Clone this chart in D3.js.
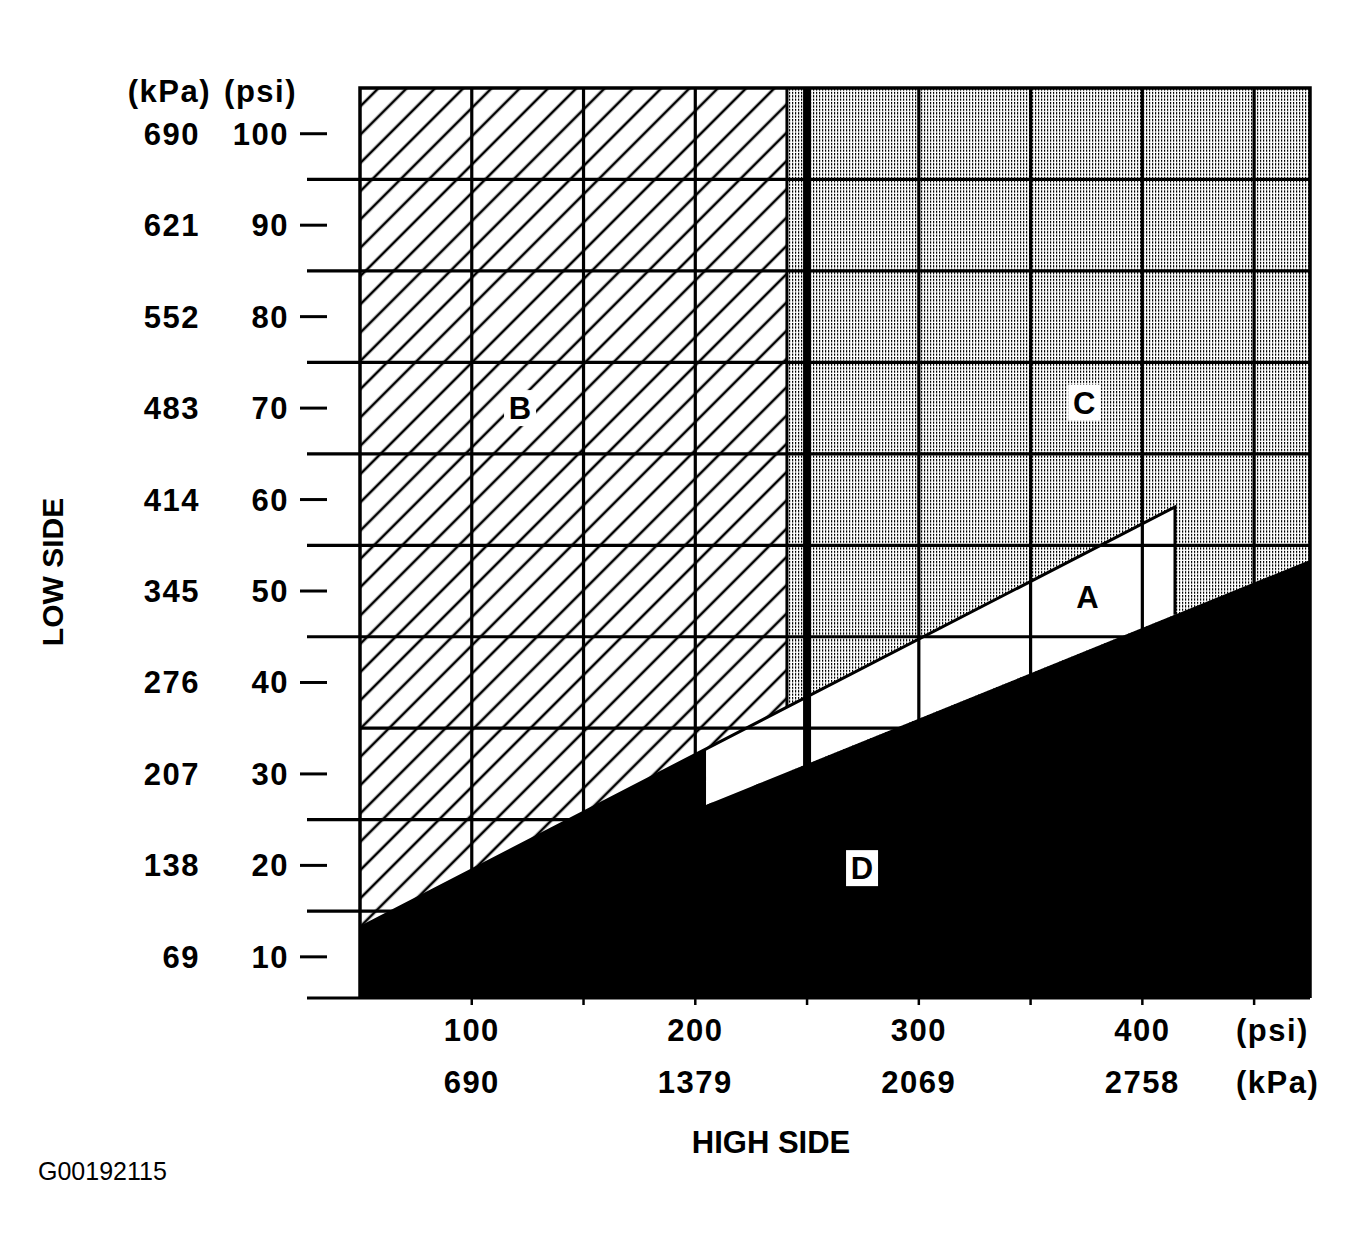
<!DOCTYPE html>
<html>
<head>
<meta charset="utf-8">
<script src="https://cdn.jsdelivr.net/npm/d3@7"></script>
<style>
  body { margin: 0; background: #fff; }
  svg { display: block; }
  text { font-family: "Liberation Sans", Arial, sans-serif; fill: #000; }
</style>
</head>
<body>
<div id="chart"></div>
<script>
// Low side (y) ticks
const lowPsi = [10, 20, 30, 40, 50, 60, 70, 80, 90, 100];
const lowKpa = [69, 138, 207, 276, 345, 414, 483, 552, 621, 690];
// High side (x) ticks
const highPsi = [100, 200, 300, 400];
const highKpa = [690, 1379, 2069, 2758];
const highMinor = [100, 150, 200, 250, 300, 350, 400, 450];

// grid
const gridY = [15, 25, 35, 45, 55, 65, 75, 85, 95];
const gridYLong = [true, true, false, true, true, true, true, true, true];
const gridX = [100, 150, 200, 300, 350, 400, 450];
const thickX = 250;
const zoneBEdge = 241;

// zone boundaries (psi high, psi low)
const upperLine = [[50, 13.2], [414.6, 59.2]];
const lowerLine = [[204.8, 26.6], [475, 53.4]];

const zoneLabels = ["B", "C", "A", "D"];
const zoneLabelX = [121.6, 374, 375.4, 274.6];
const zoneLabelY = [70.0, 70.6, 49.3, 19.7];
const zoneLabelBox = [true, true, false, true];

const W = 1357, H = 1256;
const svg = d3.select("#chart").append("svg").attr("width", W).attr("height", H);

const x = d3.scaleLinear().domain([50, 475]).range([360, 1310]);
const y = d3.scaleLinear().domain([5.5, 105]).range([998, 88]);

// patterns
const defs = svg.append("defs");
const hatch = defs.append("pattern")
    .attr("id", "hatch")
    .attr("patternUnits", "userSpaceOnUse")
    .attr("width", 20).attr("height", 20)
    .attr("patternTransform", "rotate(45)");
hatch.append("rect").attr("width", 20).attr("height", 20).attr("fill", "#fff");
hatch.append("line")
    .attr("x1", 10).attr("x2", 10).attr("y1", 0).attr("y2", 20)
    .attr("stroke", "#000").attr("stroke-width", 2.6);

const stip = defs.append("pattern")
    .attr("id", "stipple")
    .attr("patternUnits", "userSpaceOnUse")
    .attr("width", 3).attr("height", 3.4);
stip.append("rect").attr("width", 3).attr("height", 3.4).attr("fill", "#fff");
stip.append("rect").attr("width", 1.2).attr("height", 2.2).attr("fill", "#000");

const lineAt = (pts, v) => {
    const [a, b] = pts;
    return a[1] + (v - a[0]) * (b[1] - a[1]) / (b[0] - a[0]);
};

const xl = x.domain()[0], xr = x.domain()[1];
const yb = y.domain()[0], yt = y.domain()[1];

// C zone: stippled
svg.append("rect")
    .attr("x", x(zoneBEdge)).attr("y", y(yt))
    .attr("width", x(xr) - x(zoneBEdge)).attr("height", y(yb) - y(yt))
    .attr("fill", "url(#stipple)");

// B zone: hatched
svg.append("rect")
    .attr("x", x(xl)).attr("y", y(yt))
    .attr("width", x(zoneBEdge) - x(xl)).attr("height", y(yb) - y(yt))
    .attr("fill", "url(#hatch)");

// A zone: white wedge
const a0 = lowerLine[0][0], a1 = upperLine[1][0];
const zoneA = [
    [a0, lineAt(upperLine, a0)],
    [a1, lineAt(upperLine, a1)],
    [a1, lineAt(lowerLine, a1)],
    [a0, lineAt(lowerLine, a0)]
];
const poly = d3.line().x(d => x(d[0])).y(d => y(d[1]));
svg.append("path").attr("d", poly(zoneA) + "Z").attr("fill", "#fff");

// grid lines
svg.append("g").selectAll("line")
    .data(gridY)
    .join("line")
    .attr("x1", (d, i) => gridYLong[i] ? x(xl) - 53 : x(xl))
    .attr("x2", x(xr))
    .attr("y1", d => y(d)).attr("y2", d => y(d))
    .attr("stroke", "#000").attr("stroke-width", 3.2);

svg.append("g").selectAll("line")
    .data(gridX)
    .join("line")
    .attr("x1", d => x(d)).attr("x2", d => x(d))
    .attr("y1", y(yt)).attr("y2", y(yb))
    .attr("stroke", "#000").attr("stroke-width", 3.2);

// B/C boundary stops at the upper line
svg.append("line")
    .attr("x1", x(zoneBEdge)).attr("x2", x(zoneBEdge))
    .attr("y1", y(yt)).attr("y2", y(lineAt(upperLine, zoneBEdge)))
    .attr("stroke", "#000").attr("stroke-width", 3);

// upper boundary line and A right edge
svg.append("path")
    .attr("d", poly([upperLine[0], upperLine[1], [a1, lineAt(lowerLine, a1)]]))
    .attr("fill", "none").attr("stroke", "#000").attr("stroke-width", 3);

// thick 250 psi line
svg.append("line")
    .attr("x1", x(thickX)).attr("x2", x(thickX))
    .attr("y1", y(yt)).attr("y2", y(yb))
    .attr("stroke", "#000").attr("stroke-width", 8);

// D zone: black
const zoneD = [
    [xl, yb],
    [xl, lineAt(upperLine, xl)],
    [a0, lineAt(upperLine, a0)],
    [a0, lineAt(lowerLine, a0)],
    [xr, lineAt(lowerLine, xr)],
    [xr, yb]
];
svg.append("path").attr("d", poly(zoneD) + "Z").attr("fill", "#000");

// frame
svg.append("path")
    .attr("d", `M${x(xl)},${y(yb)}V${y(yt)}H${x(xr)}V${y(yb)}`)
    .attr("fill", "none").attr("stroke", "#000").attr("stroke-width", 3.5);
svg.append("line")
    .attr("x1", x(xl) - 53).attr("x2", x(xr))
    .attr("y1", y(yb)).attr("y2", y(yb))
    .attr("stroke", "#000").attr("stroke-width", 3);

// x minor ticks below axis
svg.append("g").selectAll("line")
    .data(highMinor)
    .join("line")
    .attr("x1", d => x(d)).attr("x2", d => x(d))
    .attr("y1", y(yb)).attr("y2", y(yb) + 7)
    .attr("stroke", "#000").attr("stroke-width", 2.5);

// y ticks and labels
const yAxis = svg.append("g");
yAxis.selectAll("line")
    .data(lowPsi)
    .join("line")
    .attr("x1", 300).attr("x2", 327)
    .attr("y1", d => y(d)).attr("y2", d => y(d))
    .attr("stroke", "#000").attr("stroke-width", 3);

const numStyle = sel => sel
    .attr("font-size", 31).attr("font-weight", "bold").attr("letter-spacing", 1.5);

yAxis.selectAll("text.psi")
    .data(lowPsi)
    .join("text").attr("class", "psi")
    .attr("x", 289).attr("y", d => y(d) + 11)
    .attr("text-anchor", "end")
    .call(numStyle)
    .text(d => d);
yAxis.selectAll("text.kpa")
    .data(lowKpa)
    .join("text").attr("class", "kpa")
    .attr("x", 200).attr("y", (d, i) => y(lowPsi[i]) + 11)
    .attr("text-anchor", "end")
    .call(numStyle)
    .text(d => d);

svg.append("text").attr("x", 211).attr("y", 102).attr("text-anchor", "end")
    .call(numStyle).text("(kPa)");
svg.append("text").attr("x", 297).attr("y", 102).attr("text-anchor", "end")
    .call(numStyle).text("(psi)");

// x labels
const xAxis = svg.append("g");
xAxis.selectAll("text.psi")
    .data(highPsi)
    .join("text").attr("class", "psi")
    .attr("x", d => x(d)).attr("y", 1041)
    .attr("text-anchor", "middle")
    .call(numStyle)
    .text(d => d);
xAxis.selectAll("text.kpa")
    .data(highKpa)
    .join("text").attr("class", "kpa")
    .attr("x", (d, i) => x(highPsi[i])).attr("y", 1093)
    .attr("text-anchor", "middle")
    .call(numStyle)
    .text(d => d);
svg.append("text").attr("x", 1236).attr("y", 1041).call(numStyle).text("(psi)");
svg.append("text").attr("x", 1236).attr("y", 1093).call(numStyle).text("(kPa)");

// axis titles
svg.append("text")
    .attr("x", 771).attr("y", 1153)
    .attr("text-anchor", "middle")
    .attr("font-size", 31).attr("font-weight", "bold")
    .text("HIGH SIDE");
svg.append("text")
    .attr("transform", "translate(63,572) rotate(-90)")
    .attr("text-anchor", "middle")
    .attr("font-size", 30).attr("font-weight", "bold")
    .text("LOW SIDE");
svg.append("text")
    .attr("x", 38).attr("y", 1180)
    .attr("font-size", 25)
    .text("G00192115");

// zone labels
const zl = svg.append("g");
zl.selectAll("rect")
    .data(zoneLabels.filter((d, i) => zoneLabelBox[i]))
    .join("rect")
    .each(function (d) {
        const i = zoneLabels.indexOf(d);
        d3.select(this)
            .attr("x", x(zoneLabelX[i]) - 16).attr("y", y(zoneLabelY[i]) - 18)
            .attr("width", 32).attr("height", 36)
            .attr("fill", "#fff");
    });
zl.selectAll("text")
    .data(zoneLabels)
    .join("text")
    .attr("x", (d, i) => x(zoneLabelX[i]))
    .attr("y", (d, i) => y(zoneLabelY[i]) + 11)
    .attr("text-anchor", "middle")
    .attr("font-size", 31).attr("font-weight", "bold")
    .text(d => d);
</script>
</body>
</html>
